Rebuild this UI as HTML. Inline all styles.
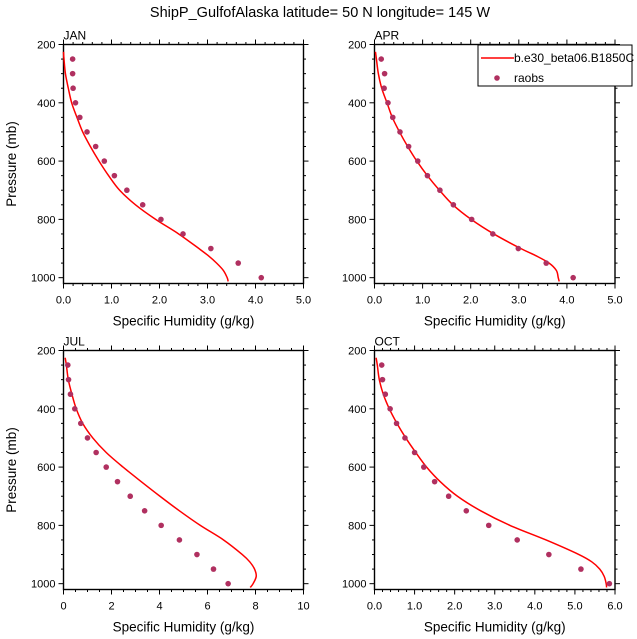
<!DOCTYPE html>
<html><head><meta charset="utf-8"><style>
html,body{margin:0;padding:0;background:#fff;}
svg{display:block;font-family:"Liberation Sans",Arial,sans-serif;}
</style></head><body>
<svg id="chart" width="637" height="639" viewBox="0 0 637 639">
<text x="320" y="17" text-anchor="middle" font-size="14.5">ShipP_GulfofAlaska  latitude= 50 N longitude= 145 W</text>
</svg>
<script>
const levels=[250,300,350,400,450,500,550,600,650,700,750,800,850,900,950,1000];
const janObs=[0.19,0.19,0.20,0.25,0.34,0.49,0.67,0.85,1.06,1.32,1.65,2.03,2.49,3.07,3.64,4.12];
const aprObs=[0.14,0.21,0.20,0.28,0.38,0.53,0.71,0.90,1.10,1.36,1.64,2.02,2.46,2.99,3.57,4.13];
const julObs=[0.18,0.21,0.29,0.47,0.72,1.00,1.36,1.78,2.25,2.78,3.38,4.07,4.83,5.56,6.25,6.86];
const octObs=[0.18,0.20,0.27,0.39,0.55,0.76,1.00,1.23,1.50,1.85,2.29,2.85,3.56,4.35,5.15,5.86];
const modelLevels=[225,250,300,350,400,450,500,550,600,650,700,750,800,850,900,925,950,975,1000,1013];
const janModel=[0.0,0.01,0.04,0.10,0.17,0.28,0.40,0.56,0.74,0.94,1.17,1.50,1.92,2.40,2.82,3.02,3.19,3.33,3.41,3.43];
const aprModel=[0.02,0.04,0.08,0.15,0.26,0.37,0.52,0.69,0.88,1.10,1.35,1.63,2.01,2.48,3.04,3.36,3.63,3.78,3.82,3.84];
const julModel=[0.07,0.12,0.20,0.35,0.53,0.80,1.22,1.78,2.48,3.24,4.02,4.83,5.70,6.67,7.45,7.76,7.96,8.03,7.90,7.78];
const octModel=[0.04,0.07,0.12,0.22,0.37,0.56,0.78,1.03,1.30,1.64,2.07,2.65,3.38,4.28,5.10,5.42,5.62,5.73,5.78,5.79];
const yTicks=[200,400,600,800,1000];

const NS="http://www.w3.org/2000/svg";
const svg=document.getElementById('chart');
function mk(tag,attrs,parent){const e=document.createElementNS(NS,tag);for(const k in attrs)e.setAttribute(k,attrs[k]);(parent||svg).appendChild(e);return e;}
function smooth(pts){
 let d='M'+pts[0][0].toFixed(2)+','+pts[0][1].toFixed(2);
 for(let i=0;i<pts.length-1;i++){
  const p0=pts[i-1]||pts[i],p1=pts[i],p2=pts[i+1],p3=pts[i+2]||p2;
  const c1=[p1[0]+(p2[0]-p0[0])/6,p1[1]+(p2[1]-p0[1])/6];
  const c2=[p2[0]-(p3[0]-p1[0])/6,p2[1]-(p3[1]-p1[1])/6];
  d+=' C'+c1.map(v=>v.toFixed(2)).join(',')+' '+c2.map(v=>v.toFixed(2)).join(',')+' '+p2.map(v=>v.toFixed(2)).join(',');
 }
 return d;
}

const panels=[
 {name:'jan',label:'JAN',x0:63.5,x1:303.5,y0:44.5,y1:283.5,xmax:5,major:1,minor:0.2,dec:1,obs:janObs,model:janModel,ytitle:true},
 {name:'apr',label:'APR',x0:374.5,x1:615,y0:44.5,y1:283.5,xmax:5,major:1,minor:0.2,dec:1,obs:aprObs,model:aprModel,ytitle:false,legend:true},
 {name:'jul',label:'JUL',x0:63.5,x1:303.5,y0:350.5,y1:589.5,xmax:10,major:2,minor:0.5,dec:0,obs:julObs,model:julModel,ytitle:true},
 {name:'oct',label:'OCT',x0:374.5,x1:615,y0:350.5,y1:589.5,xmax:6,major:1,minor:0.2,dec:1,obs:octObs,model:octModel,ytitle:false}
];

panels.forEach(p=>{
 const g=mk('g',{});
 
 
 const sx=v=>p.x0+(v/p.xmax)*(p.x1-p.x0);
 const sy=v=>p.y0+((v-200)/820)*(p.y1-p.y0);
 const tk=mk('g',{stroke:'#000','stroke-width':1},g);
 
 
 const nMin=Math.round(p.xmax/p.minor);
 for(let i=0;i<=nMin;i++){
  const v=i*p.minor;const X=sx(v);
  const isMaj=Math.abs(v/p.major-Math.round(v/p.major))<1e-6;
  const L=isMaj?5:2.5;
  mk('line',{x1:X,x2:X,y1:p.y1,y2:p.y1+L},tk);
  mk('line',{x1:X,x2:X,y1:p.y0,y2:p.y0-L},tk);
 }
 for(let v=200;v<=1000;v+=50){
  const Y=sy(v);const L=(v%200===0)?5:2.5;
  mk('line',{x1:p.x0,x2:p.x0-L,y1:Y,y2:Y},tk);
  mk('line',{x1:p.x1,x2:p.x1+L,y1:Y,y2:Y},tk);
 }
 const fr=mk('rect',{x:p.x0,y:p.y0,width:p.x1-p.x0,height:p.y1-p.y0,fill:'none',stroke:'#000','stroke-width':1.4},g);
 
 
 for(let v=0;v<=p.xmax+1e-9;v+=p.major){
  const t=mk('text',{x:sx(v),y:p.y1+20,'text-anchor':'middle','font-size':11},g);
  t.textContent=v.toFixed(p.dec);
  
  
 }
 yTicks.forEach(v=>{
  const t=mk('text',{x:p.x0-8,y:sy(v)+4,'text-anchor':'end','font-size':11},g);
  t.textContent=v;
  
  
 });
 const xt=mk('text',{x:(p.x0+p.x1)/2,y:p.y1+42,'text-anchor':'middle','font-size':13.5},g);
 xt.textContent='Specific Humidity (g/kg)';
 
 
 if(p.ytitle){
  const yt=mk('text',{x:0,y:0,'text-anchor':'middle','font-size':13.5,transform:`translate(16,${(p.y0+p.y1)/2}) rotate(-90)`},g);
  yt.textContent='Pressure (mb)';
  
  
 }
 const lb=mk('text',{x:p.x0,y:p.y0-5,'font-size':12},g);
 lb.textContent=p.label;
 
 
 const pts=modelLevels.map((lv,i)=>[sx(p.model[i]),sy(lv)]);
 const ln=mk('path',{d:smooth(pts),fill:'none',stroke:'#ff0000','stroke-width':1.5,'stroke-linejoin':'round'},g);
 
 
 levels.forEach((lv,i)=>{
  const c=mk('circle',{cx:sx(p.obs[i]),cy:sy(lv),r:2.8,fill:'#b03060'},g);
  
  
 });
 if(p.legend){
  const lg=mk('g',{},g);
  
  
  mk('rect',{x:478,y:45,width:154,height:41,fill:'#fff',stroke:'#000','stroke-width':1},lg);
  mk('line',{x1:481,x2:514,y1:58,y2:58,stroke:'#ff0000','stroke-width':1.5},lg);
  const t1=mk('text',{x:514,y:62,'font-size':12},lg);
  t1.textContent='b.e30_beta06.B1850C';
  
  
  mk('circle',{cx:497,cy:78,r:2.8,fill:'#b03060'},lg);
  const t2=mk('text',{x:514,y:82,'font-size':12},lg);
  t2.textContent='raobs';
  
  
 }
});
</script>
</body></html>
